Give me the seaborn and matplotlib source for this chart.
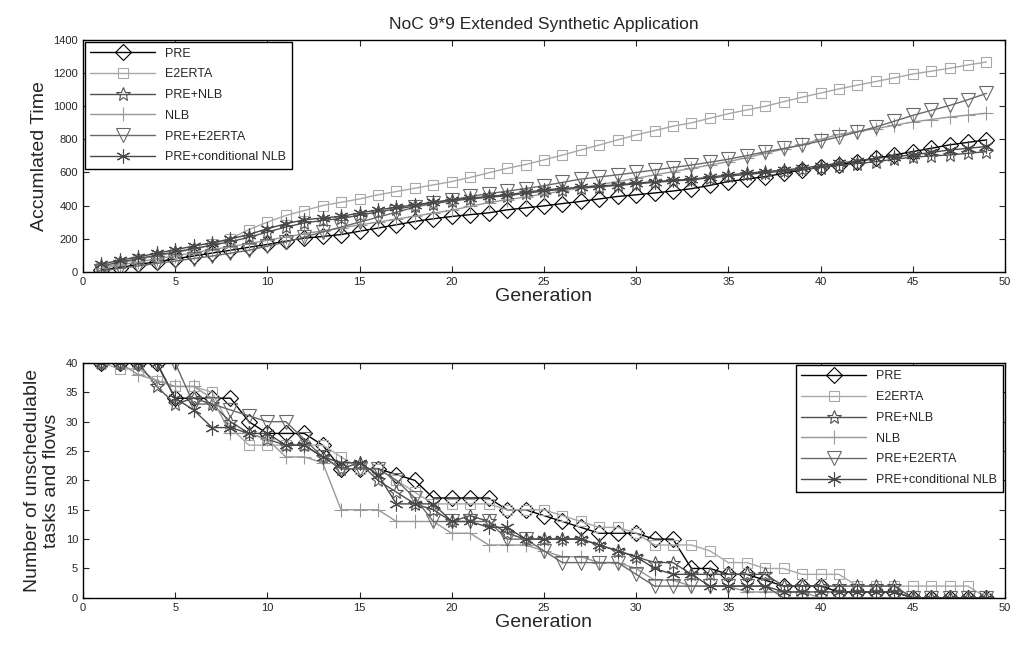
import numpy as np
import pandas as pd
import seaborn as sns
import matplotlib.pyplot as plt

# generations 1..49
generation = list(range(1, 50))

series_names = ['PRE', 'E2ERTA', 'PRE+NLB', 'NLB', 'PRE+E2ERTA', 'PRE+conditional NLB']

# accumulated time (top chart)
time_pre = [10, 25, 45, 60, 78, 95, 113, 130, 148, 165, 185, 203, 213, 225, 245, 264, 284, 304, 320, 334,
            345, 356, 374, 386, 398, 412, 425, 440, 455, 465, 476, 488, 502, 522, 545, 560, 575, 595, 616, 631,
            646, 666, 686, 706, 726, 746, 767, 782, 797]
time_e2erta = [25, 50, 75, 95, 115, 135, 165, 200, 255, 300, 340, 370, 400, 420, 440, 465, 485, 505, 525, 545,
               570, 598, 625, 648, 676, 705, 736, 766, 797, 827, 853, 880, 900, 928, 955, 978, 1000, 1028, 1055, 1080,
               1105, 1128, 1150, 1172, 1195, 1212, 1230, 1250, 1268]
time_pre_nlb = [35, 58, 80, 100, 120, 140, 160, 182, 208, 240, 270, 295, 310, 322, 342, 362, 380, 396, 412, 428,
                440, 450, 460, 474, 488, 497, 506, 514, 522, 531, 540, 548, 556, 567, 578, 588, 598, 608, 618, 630,
                642, 654, 665, 680, 692, 700, 706, 716, 726]
time_nlb = [20, 40, 60, 78, 96, 115, 133, 152, 170, 190, 210, 230, 247, 265, 283, 300, 318, 336, 354, 372,
            395, 418, 435, 452, 470, 488, 507, 526, 545, 565, 585, 605, 625, 645, 665, 690, 715, 742, 770, 800,
            830, 848, 865, 885, 905, 920, 935, 947, 958]
time_pre_e2erta = [5, 20, 35, 50, 65, 80, 95, 112, 130, 155, 180, 210, 240, 270, 300, 330, 360, 390, 415, 435,
                   455, 472, 487, 503, 520, 540, 560, 573, 586, 600, 615, 630, 645, 662, 680, 702, 725, 745, 765, 790,
                   815, 845, 875, 910, 945, 975, 1005, 1040, 1078]
time_pre_cnlb = [45, 70, 90, 112, 133, 155, 175, 198, 225, 260, 290, 314, 325, 335, 355, 374, 390, 404, 420, 435,
                 445, 455, 465, 480, 495, 503, 511, 518, 525, 535, 545, 552, 559, 572, 585, 595, 605, 615, 626, 641,
                 656, 671, 686, 696, 706, 721, 736, 746, 757]

# unschedulable tasks and flows (bottom chart)
uns_pre = [40, 40, 40, 40, 34, 34, 34, 34, 30, 28, 28, 28, 26, 22, 22, 22, 21, 20, 17, 17,
           17, 17, 15, 15, 14, 13, 12, 11, 11, 11, 10, 10, 5, 5, 4, 4, 3, 2, 2, 2,
           1, 1, 1, 1, 0, 0, 0, 0, 0]
uns_e2erta = [40, 39, 39, 37, 36, 36, 35, 29, 26, 26, 26, 26, 26, 24, 22, 22, 20, 18, 16, 16,
              16, 16, 15, 15, 15, 14, 13, 12, 12, 11, 9, 9, 9, 8, 6, 6, 5, 5, 4, 4,
              4, 2, 2, 2, 2, 2, 2, 2, 0]
uns_pre_nlb = [40, 40, 40, 36, 33, 34, 33, 30, 28, 27, 26, 26, 24, 22, 23, 20, 18, 16, 15, 13,
               14, 13, 11, 10, 10, 10, 10, 9, 8, 7, 6, 6, 4, 4, 4, 4, 4, 2, 2, 2,
               2, 2, 2, 2, 0, 0, 0, 0, 0]
uns_nlb = [40, 40, 38, 37, 36, 36, 34, 28, 28, 27, 24, 24, 23, 15, 15, 15, 13, 13, 13, 11,
           11, 9, 9, 9, 8, 7, 7, 6, 6, 5, 3, 3, 2, 2, 2, 1, 1, 1, 1, 0,
           0, 0, 0, 0, 0, 0, 0, 0, 0]
uns_pre_e2erta = [40, 40, 40, 40, 40, 33, 33, 32, 31, 30, 30, 27, 24, 22, 22, 22, 20, 17, 13, 13,
                  13, 13, 10, 10, 8, 6, 6, 6, 6, 4, 2, 2, 2, 2, 2, 2, 2, 0, 0, 0,
                  0, 0, 0, 0, 0, 0, 0, 0, 0]
uns_pre_cnlb = [40, 40, 40, 40, 34, 32, 29, 29, 28, 28, 26, 26, 24, 23, 23, 21, 16, 16, 16, 13,
                13, 12, 12, 10, 10, 10, 10, 9, 8, 7, 5, 4, 4, 2, 2, 2, 2, 1, 1, 1,
                1, 1, 1, 1, 0, 0, 0, 0, 0]

time_values = [time_pre, time_e2erta, time_pre_nlb, time_nlb, time_pre_e2erta, time_pre_cnlb]
uns_values = [uns_pre, uns_e2erta, uns_pre_nlb, uns_nlb, uns_pre_e2erta, uns_pre_cnlb]

# matlab-ish grey styles
line_colors = ['#000000', '#a8a8a8', '#505050', '#989898', '#686868', '#484848']
line_markers = ['D', 's', '*', '+', 'v', (6, 2, 0)]
marker_sizes = [8, 7.5, 10, 10, 10, 10]
hollow = [True, True, True, False, True, False]

sns.set_style("ticks")
plt.rcParams['font.family'] = ['Liberation Sans', 'DejaVu Sans']
plt.rcParams['xtick.direction'] = 'in'
plt.rcParams['ytick.direction'] = 'in'
plt.rcParams['axes.linewidth'] = 1.0
plt.rcParams['axes.edgecolor'] = 'black'


def draw_panel(ax, values, legend_loc):
    rows = []
    for name, vals in zip(series_names, values):
        for g, v in zip(generation, vals):
            rows.append({'generation': g, 'value': v, 'series': name})
    df = pd.DataFrame(rows)
    for i, name in enumerate(series_names):
        sub = df[df['series'] == name]
        sns.lineplot(data=sub, x='generation', y='value', ax=ax, errorbar=None,
                     color=line_colors[i], linewidth=1.0, label=name,
                     marker=line_markers[i], markersize=marker_sizes[i],
                     mfc='none' if hollow[i] else line_colors[i],
                     mec=line_colors[i], mew=0.8)
    ax.set_xlim(0, 50)
    ax.set_xticks(np.arange(0, 51, 5))
    ax.tick_params(axis='both', labelsize=8, top=True, right=True, length=4, width=0.8)
    ax.set_xlabel('Generation', fontsize=14, labelpad=1)
    leg = ax.legend(loc=legend_loc, fontsize=9, handlelength=5.2, frameon=True, fancybox=False,
                    framealpha=1, edgecolor='black', borderaxespad=0.15, labelspacing=0.7,
                    borderpad=0.45)
    leg.get_frame().set_linewidth(1.0)
    for s in ax.spines.values():
        s.set_visible(True)


fig = plt.figure(figsize=(10.12, 6.47), dpi=100)
ax1 = fig.add_axes([0.082, 0.580, 0.911, 0.358])
ax2 = fig.add_axes([0.082, 0.076, 0.911, 0.363])

draw_panel(ax1, time_values, 'upper left')
ax1.set_ylim(0, 1400)
ax1.set_yticks(np.arange(0, 1401, 200))
ax1.set_ylabel('Accumlated Time', fontsize=14)
ax1.set_title('NoC 9*9 Extended Synthetic Application', fontsize=12.5, pad=8)

draw_panel(ax2, uns_values, 'upper right')
ax2.set_ylim(0, 40)
ax2.set_yticks(np.arange(0, 41, 5))
ax2.set_ylabel('Number of unschedulable\ntasks and flows', fontsize=14)

fig.savefig('out.png', dpi=100)
